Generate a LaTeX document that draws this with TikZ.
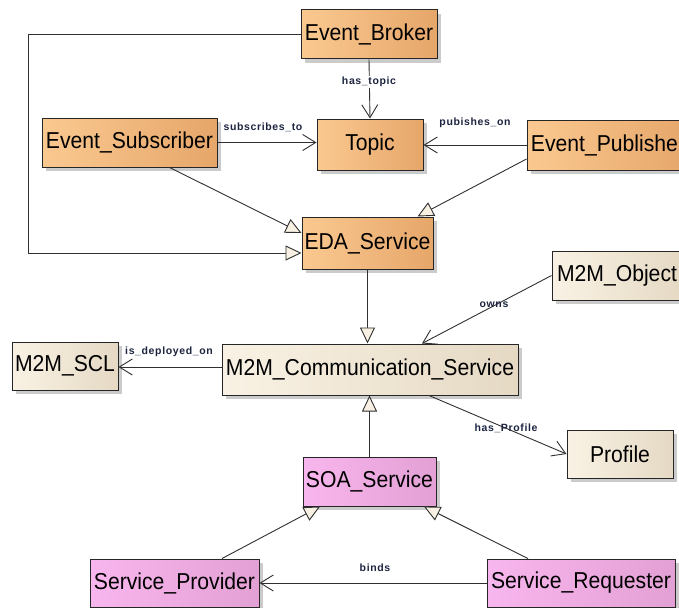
\documentclass[tikz,border=0pt]{standalone}
\usepackage{fontspec}
\setmainfont{Liberation Sans}
\newfontfamily\boxfont[FakeStretch=0.92]{Liberation Sans}
\newfontfamily\lblfont[LetterSpace=6]{Liberation Sans}
\usetikzlibrary{arrows.meta,shadows,calc}
\definecolor{orL}{HTML}{FAC990}
\definecolor{orR}{HTML}{E6A66A}
\definecolor{crL}{HTML}{F9F2E4}
\definecolor{crR}{HTML}{E5D9C4}
\definecolor{pkL}{HTML}{F8B6EE}
\definecolor{pkR}{HTML}{E2A0D4}
\definecolor{edgec}{HTML}{303030}
\definecolor{lblc}{HTML}{1C2440}
\definecolor{tric}{HTML}{F8F0E2}
\tikzset{
  box/.style={draw=black!85, line width=1pt, text=black, inner sep=0pt,
    font=\boxfont\fontsize{23}{25}\selectfont,
    drop shadow={shadow xshift=4pt, shadow yshift=-4pt, fill=black!25, opacity=0.8}},
  orbox/.style={box, left color=orL, right color=orR},
  crbox/.style={box, left color=crL, right color=crR},
  pkbox/.style={box, left color=pkL, right color=pkR},
  assoc/.style={draw=edgec, line width=0.9pt, -{Straight Barb[length=13pt,width=16pt,line width=0.9pt]}},
  gen/.style={draw=edgec, line width=0.9pt, -{Triangle[length=16pt,width=15pt,fill=tric,line width=0.9pt]}},
  lab/.style={font=\lblfont\bfseries\fontsize{10.5}{12}\selectfont, text=lblc, inner sep=1pt}
}
\begin{document}
\begin{tikzpicture}[x=1pt,y=-1pt]
\clip (0,0) rectangle (679,607);
\fill[white] (0,0) rectangle (679,607);
% nodes
\node[orbox, minimum width=136pt, minimum height=49pt] (broker) at (369,34.5) {Event\_Broker};
\node[orbox, minimum width=106pt, minimum height=51pt] (topic) at (370,144.5) {Topic};
\node[orbox, minimum width=175pt, minimum height=49pt] (sub) at (129.5,142.5) {Event\_Subscriber};
\node[orbox, minimum width=162pt, minimum height=50pt] (pub) at (608,145) {Event\_Publisher};
\node[orbox, minimum width=131pt, minimum height=52pt] (eda) at (367.5,243) {EDA\_Service};
\node[crbox, minimum width=130pt, minimum height=49pt] (obj) at (617,275.5) {M2M\_Object};
\node[crbox, minimum width=106pt, minimum height=48pt] (scl) at (65,366) {M2M\_SCL};
\node[crbox, minimum width=296pt, minimum height=51pt] (cs) at (370,369.5) {M2M\_Communication\_Service};
\node[crbox, minimum width=106pt, minimum height=48pt] (prof) at (620,454) {Profile};
\node[pkbox, minimum width=133pt, minimum height=49pt] (soa) at (369.5,481.5) {SOA\_Service};
\node[pkbox, minimum width=169pt, minimum height=48pt] (sp) at (174.5,583) {Service\_Provider};
\node[pkbox, minimum width=188pt, minimum height=48pt] (sr) at (581,583) {Service\_Requester};
% connectors
\coordinate (bk) at (28,34.5);
\draw[gen] (broker.west) -- (bk) |- ($(eda.west)+(0,10)$);
\draw[gen] ($(sub.south)+(40,0)$) -- ($(eda.west)+(0,-10)$);
\draw[gen] ($(pub.west)+(0,14)$) -- ($(eda.north)+(50,0)$);
\draw[assoc] (broker.south) -- (topic.north);
\node[lab, fill=white] (lht) at (369,82) {has\_topic};
\draw[assoc] (sub.east) -- (sub.east -| topic.west);
\node[lab] (lst) at (263,127) {subscribes\_to};
\draw[assoc] (pub.west) -- (pub.west -| topic.east);
\node[lab] (lpo) at (475,123) {pubishes\_on};
\draw[gen] (eda.south) -- (eda.south |- cs.north);
\draw[assoc] (obj.west) -- ($(cs.north)+(52,0)$);
\node[lab] (low) at (494,305) {owns};
\draw[assoc] ($(cs.west)+(0,-2.5)$) -- (scl.east |- 0,367);
\node[lab] (lid) at (169,352) {is\_deployed\_on};
\draw[assoc] ($(cs.south)+(59,0)$) -- (prof.west);
\node[lab] (lhp) at (506,428) {has\_Profile};
\draw[gen] (soa.north) -- (soa.north |- cs.south);
\draw[gen] ($(sp.north)+(47.5,0)$) -- ($(soa.south)+(-49.5,0)$);
\draw[gen] ($(sr.north)+(-53,0)$) -- ($(soa.south)+(54.5,0)$);
\draw[assoc] (sr.west) -- (sp.east);
\node[lab] (lbi) at (375,568) {binds};
\end{tikzpicture}
\end{document}
